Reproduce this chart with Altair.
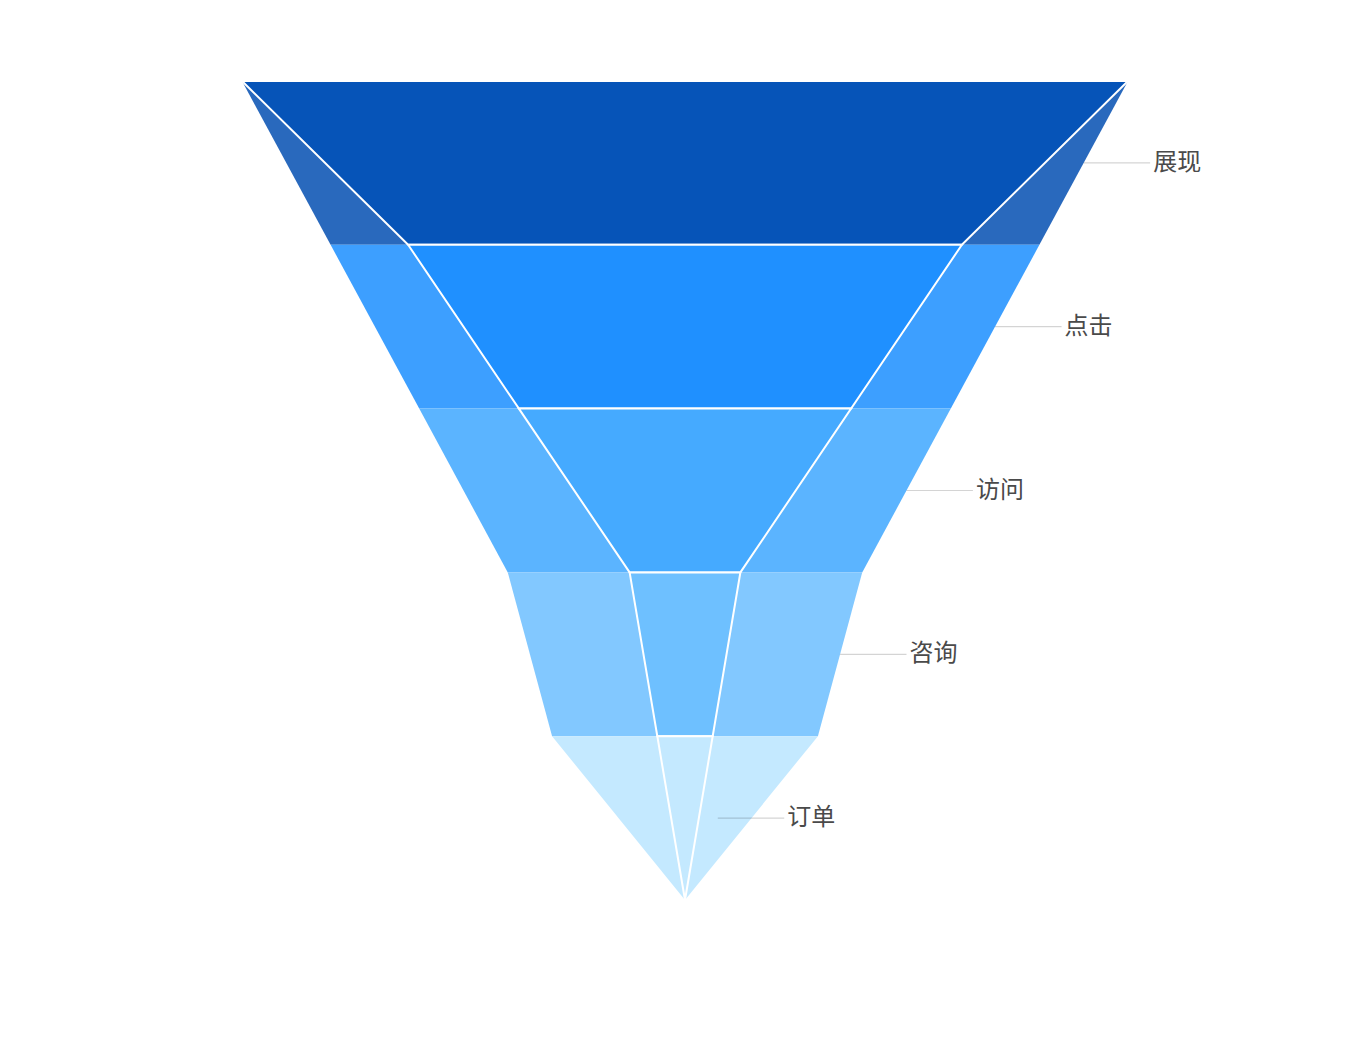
import altair as alt
import pandas as pd

# ---- data ----
stages = ["展现", "点击", "访问", "咨询", "订单"]
expected = [100, 80, 60, 40, 30]
actual = [80, 50, 30, 10, 5]
outer_colors = ["#2969bd", "#3d9fff", "#5bb4ff", "#82c8ff", "#c4e9ff"]
inner_colors = ["#0654b8", "#1f90ff", "#45aaff", "#6ec0ff", "#c4e9ff"]
# label-line anchor points (value units from the centre)
label_anchor = [45, 35, 25, 17.5, 3.7]
label_line_len = 7.5


def pieces(values, scale_max):
    widths = [v / scale_max * 100 for v in values] + [0]
    rows = []
    for i, name in enumerate(stages):
        for j in (0, 1):
            half = widths[i + j] / 2
            rows.append({"stage": name, "idx": i, "y": i + j, "xl": -half, "xr": half})
    return pd.DataFrame(rows)


outer_df = pieces(expected, max(expected))
inner_df = pieces(actual, max(actual))

label_df = pd.DataFrame({
    "stage": stages,
    "y": [i + 0.5 for i in range(len(stages))],
    "x1": label_anchor,
    "x2": [a + label_line_len for a in label_anchor],
})

xs = alt.Scale(domain=[-50, 50], nice=False, zero=False)
ys = alt.Scale(domain=[0, 5], reverse=True, nice=False, zero=False)

outer = alt.Chart(outer_df).mark_area(orient="horizontal", opacity=1).encode(
    y=alt.Y("y:Q", scale=ys, axis=None),
    x=alt.X("xl:Q", scale=xs, axis=None),
    x2="xr:Q",
    color=alt.Color("stage:N", scale=alt.Scale(domain=stages, range=outer_colors), legend=None),
    detail="stage:N",
)

inner = alt.Chart(inner_df).mark_area(
    orient="horizontal", opacity=1, stroke="white", strokeWidth=2, strokeJoin="miter"
).encode(
    y=alt.Y("y:Q", scale=ys, axis=None),
    x=alt.X("xl:Q", scale=xs, axis=None),
    x2="xr:Q",
    color=alt.Color("stage:N", scale=alt.Scale(domain=stages, range=inner_colors), legend=None),
    detail="stage:N",
)

lines = alt.Chart(label_df).mark_rule(color="#000000", opacity=0.17, strokeWidth=1.2).encode(
    y=alt.Y("y:Q", scale=ys, axis=None),
    x=alt.X("x1:Q", scale=xs, axis=None),
    x2="x2:Q",
)

texts = alt.Chart(label_df).mark_text(
    align="left", baseline="middle", dx=3, fontSize=24,
    font="Noto Sans CJK SC", color="#4a4a4a",
).encode(
    y=alt.Y("y:Q", scale=ys, axis=None),
    x=alt.X("x2:Q", scale=xs, axis=None),
    text="stage:N",
)

chart = alt.layer(outer, inner, lines, texts).resolve_scale(color="independent").properties(
    width=886,
    height=819,
    autosize=alt.AutoSizeParams(type="none"),
    padding={"left": 234, "top": 73, "right": 200, "bottom": 120},
).configure_view(stroke=None)

chart.save("out.html", embed_options={"renderer": "svg", "actions": False})
